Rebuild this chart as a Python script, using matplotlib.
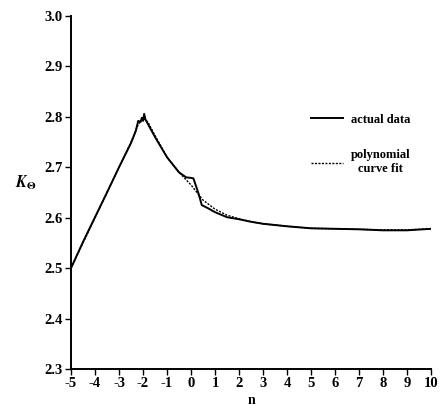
import matplotlib
matplotlib.use("Agg")
import matplotlib.pyplot as plt

# Actual data
actual_n = [-5.0, -4.5, -4.0, -3.5, -3.0, -2.5, -2.3, -2.2, -2.1, -2.05, -2.0, -1.95, -1.9,
            -1.5, -1.0, -0.5, -0.2, 0.0, 0.1, 0.3, 0.45, 0.7, 1.0, 1.5, 2.0, 2.5, 3.0, 4.0,
            5.0, 6.0, 7.0, 8.0, 9.0, 10.0]
actual_k = [2.500, 2.552, 2.601, 2.650, 2.700, 2.748, 2.772, 2.792, 2.790, 2.798, 2.792, 2.806, 2.795,
            2.760, 2.720, 2.690, 2.680, 2.679, 2.678, 2.650, 2.625, 2.619, 2.611, 2.601, 2.597, 2.592, 2.588, 2.583,
            2.579, 2.578, 2.577, 2.575, 2.575, 2.578]

# Polynomial curve fit
fit_n = [-5.0, -4.0, -3.0, -2.5, -2.2, -2.0, -1.8, -1.5, -1.0, -0.5, 0.0, 0.5, 1.0, 1.5, 2.0,
         2.5, 3.0, 4.0, 5.0, 6.0, 7.0, 8.0, 9.0, 10.0]
fit_k = [2.500, 2.600, 2.700, 2.750, 2.785, 2.797, 2.790, 2.763, 2.720, 2.690, 2.665, 2.635, 2.617, 2.605, 2.598,
         2.592, 2.588, 2.583, 2.579, 2.578, 2.577, 2.576, 2.576, 2.578]

x_ticks = list(range(-5, 11))
y_ticks = [2.3, 2.4, 2.5, 2.6, 2.7, 2.8, 2.9, 3.0]

plt.rcParams['font.family'] = ['Liberation Serif', 'DejaVu Serif']
plt.rcParams['mathtext.fontset'] = 'stix'

fig = plt.figure(figsize=(4.40, 4.08), dpi=100)
ax = fig.add_axes([71/440, 1-369/408, 360/440, 353/408])

ax.plot(actual_n, actual_k, color='black', lw=1.4, label='actual data')
ax.plot(fit_n, fit_k, color='black', lw=1.0, linestyle=(0, (1.5, 1)), label='polynomial\ncurve fit')

ax.set_xlim(-5, 10)
ax.set_ylim(2.3, 3.0)
ax.set_xticks(x_ticks)
ax.set_xticklabels([str(t) for t in x_ticks])
ax.set_yticks(y_ticks)
ax.set_yticklabels([f"{t:.1f}" for t in y_ticks])

for s in ['top', 'right']:
    ax.spines[s].set_visible(False)
for s in ['left', 'bottom']:
    ax.spines[s].set_linewidth(1.4)
    ax.spines[s].set_clip_on(False)

ax.tick_params(axis='both', direction='out', length=4, width=1, labelsize=10.5, pad=2)
for lab in ax.get_xticklabels() + ax.get_yticklabels():
    lab.set_fontweight('bold')

ax.set_xlabel('n', fontsize=10, fontweight='bold', labelpad=3)
ax.set_ylabel(r'$\mathbfit{K}_{\mathbf{\Theta}}$', fontsize=11.5, rotation=0, labelpad=14)
ax.yaxis.set_label_coords(-0.125, 0.5)

leg = ax.legend(loc='upper left', bbox_to_anchor=(0.635, 0.755), frameon=False,
                handlelength=2.6, handletextpad=0.6, labelspacing=1.9,
                prop={'family': 'Liberation Serif', 'weight': 'bold', 'size': 9})
for t in leg.get_texts():
    t.set_multialignment('center')

fig.savefig('out.png', dpi=100)
